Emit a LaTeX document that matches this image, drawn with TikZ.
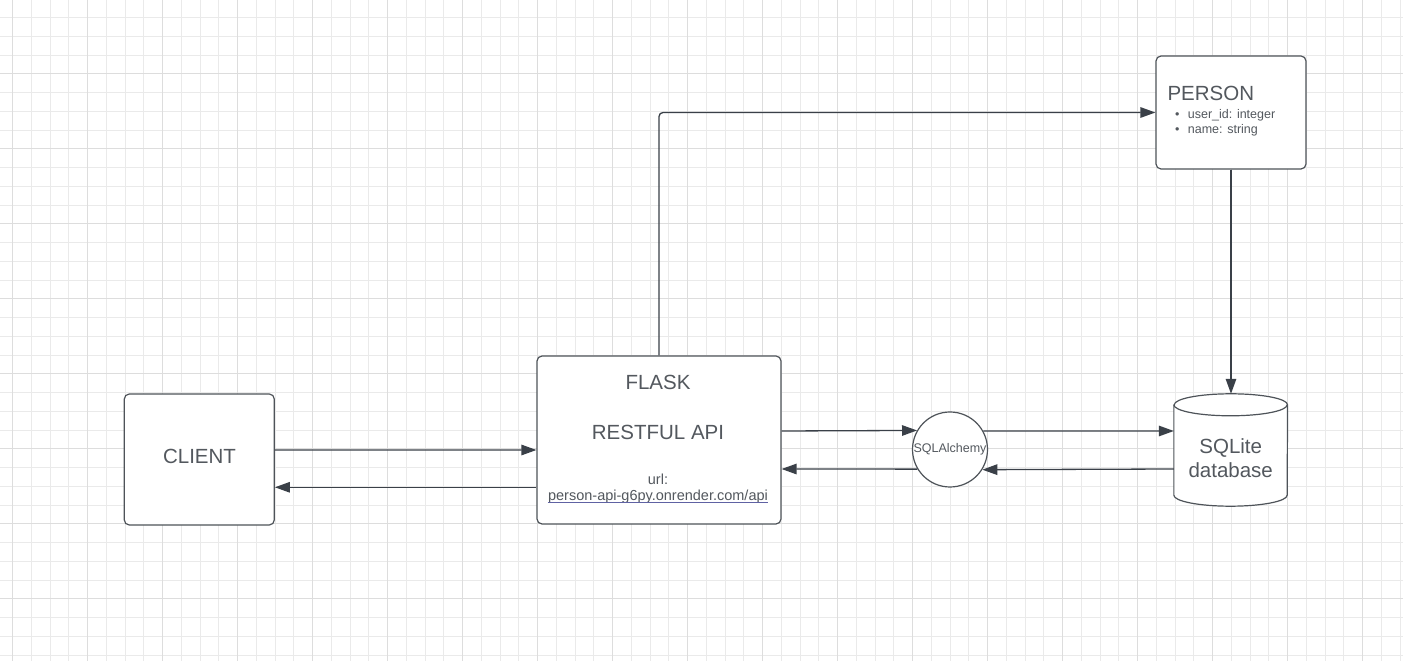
\documentclass[tikz,border=0pt]{standalone}
\usepackage{fontspec}
\setmainfont{Liberation Sans}
\usetikzlibrary{arrows.meta}
\definecolor{edgegray}{HTML}{3A4048}
\definecolor{boxgray}{HTML}{4E5359}
\definecolor{txtgray}{HTML}{53585E}
\definecolor{linkblue}{HTML}{5F62A3}
\definecolor{gridminor}{HTML}{EAEAEA}
\definecolor{gridmajor}{HTML}{DDDDDD}
\begin{document}
\begin{tikzpicture}[>={Triangle[length=15bp,width=10.5bp]},line join=bevel,
  box/.style={draw=boxgray,line width=1.2bp,fill=white,rounded corners=5bp,inner sep=0pt},
  big/.style={text=txtgray,inner sep=0pt,anchor=base,font=\fontsize{20.5bp}{24bp}\selectfont},
  small/.style={text=txtgray,inner sep=0pt,anchor=base,font=\fontsize{12.5bp}{15bp}\selectfont},
  link/.style={text=txtgray,inner sep=0pt,anchor=base,font=\fontsize{14.5bp}{17bp}\selectfont},
  arr/.style={draw=edgegray,line width=1.3bp,->},
  urlline/.style={draw=linkblue,line width=0.9bp},
]
%%
\useasboundingbox [fill=white] (0bp,0bp) rectangle (1403bp,661bp);
\draw [gridminor,line width=1bp,shift={(12.5bp,5.75bp)},step=18.75bp] (-12.5bp,-5.75bp) grid (1390.5bp,655.25bp);
\draw [gridmajor,line width=1bp,shift={(12.5bp,62bp)},step=75bp] (-12.5bp,-62bp) grid (1390.5bp,599bp);
%
\node (client) at (199.3bp,201.5bp) [box,minimum width=150bp,minimum height=131bp] {};
  \node (flask) at (659bp,221bp) [box,minimum width=244bp,minimum height=168bp] {};
  \node (person) at (1231bp,548.5bp) [box,minimum width=150bp,minimum height=113bp] {};
  \node (sqlalchemy) at (950bp,211.5bp) [circle,draw=boxgray,line width=1.2bp,fill=white,inner sep=0pt,minimum size=75bp,text=txtgray,font=\fontsize{12.5bp}{15bp}\selectfont] {SQLAlchemy};
  \node (sqlite) at (1230.7bp,211bp) [inner sep=0pt,minimum width=113.3bp,minimum height=112bp] {};
  \draw [box,rounded corners=0pt] ([yshift=-11bp]sqlite.north west) -- ([yshift=11bp]sqlite.south west) arc[start angle=180,end angle=360,x radius=56.65bp,y radius=11bp] -- ([yshift=-11bp]sqlite.north east) arc[start angle=0,end angle=180,x radius=56.65bp,y radius=11bp] -- cycle;
  \draw [box,fill=none,rounded corners=0pt] ([yshift=-11bp]sqlite.north west) arc[start angle=180,end angle=360,x radius=56.65bp,y radius=11bp];
%
\node (client_lbl) at (199.5bp,197.7bp) [big] {CLIENT};
  \node (flask_lbl) at (658bp,271.7bp) [big] {FLASK};
  \node (rest_lbl) at (658bp,221bp) [big] {RESTFUL API};
  \node (url_lbl) at (658bp,176bp) [link] {url:};
  \node (url_link) at (658bp,160.3bp) [link] {person-api-g6py.onrender.com/api};
  \draw [urlline] ([yshift=-2bp]url_link.base west) -- ([yshift=-2bp]url_link.base east);
  \node (person_lbl) at (1167.3bp,560bp) [big,anchor=base west] {PERSON};
  \node (id_dot) at (1177.3bp,542bp) [small] {•};
  \node (id_lbl) at (1187.7bp,542bp) [small,anchor=base west] {user\_id: integer};
  \node (name_dot) at (1177.3bp,527bp) [small] {•};
  \node (name_lbl) at (1187.7bp,527bp) [small,anchor=base west] {name: string};
  \node (sqlite_lbl) at (1230.7bp,207.7bp) [big] {SQLite};
  \node (db_lbl) at (1230.7bp,183.7bp) [big] {database};
%
\draw [arr] ([yshift=9.5bp]client.east) -- ([yshift=-10bp]flask.west);
  \draw [arr] ([yshift=-47.3bp]flask.west) -- ([yshift=-27.8bp]client.east);
  \draw [arr] ([yshift=9bp]flask.east) -- (sqlalchemy.150.4);
  \draw [arr] (sqlalchemy.211.3) -- ([yshift=-29bp]flask.east);
  \draw [arr] (sqlalchemy.29.6) -- ([yshift=19bp]sqlite.west);
  \draw [arr] ([yshift=-19bp]sqlite.west) -- (sqlalchemy.328.7);
  \draw [arr,rounded corners=4bp] (flask.north) |- (person.west);
  \draw [arr] (person.south) -- (person.south |- sqlite.north);
%
\end{tikzpicture}
\end{document}
